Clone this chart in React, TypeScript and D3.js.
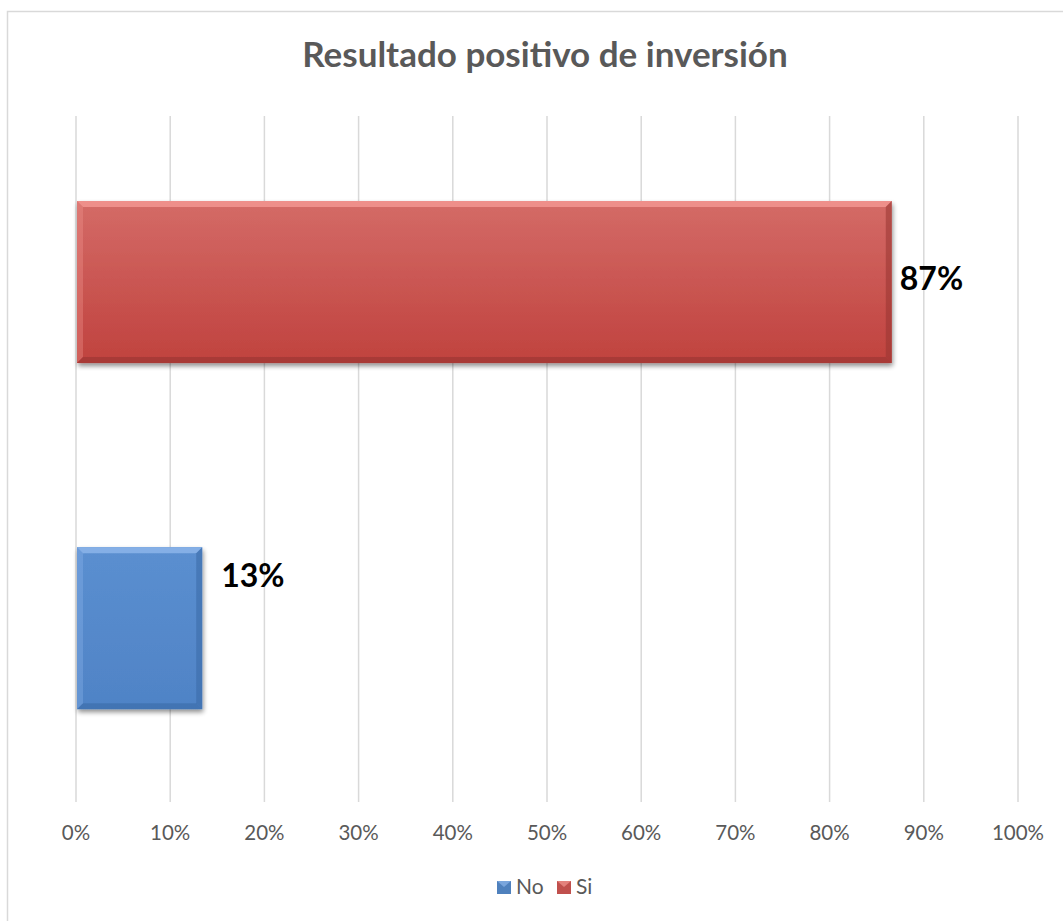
import React from "react";
import * as d3 from "d3";

const title = "Resultado positivo de inversión";
const seriesNames = ["No", "Si"];
const seriesValues = [0.134, 0.866];
const tickValues = [0, 0.1, 0.2, 0.3, 0.4, 0.5, 0.6, 0.7, 0.8, 0.9, 1.0];

const colors: Record<string, { top: string; bottom: string; light: string; dark: string; legend: string }> = {
  No: { top: "#5b8fd0", bottom: "#4f83c6", light: "#8cb5ea", dark: "#3b6aa6", legend: "#4f81bd" },
  Si: { top: "#d46b67", bottom: "#c0423e", light: "#f29590", dark: "#983532", legend: "#c0504d" },
};

const W = 1063;
const H = 921;
const plot = { left: 76, right: 1018, top: 116, bottom: 802 };
const font = "Lato, 'Open Sans', sans-serif";

export default function App() {
  const x = d3.scaleLinear().domain([0, 1]).range([plot.left, plot.right]);
  // Excel draws first series at bottom
  const y = d3
    .scaleBand<string>()
    .domain([...seriesNames].reverse())
    .range([plot.top, plot.bottom])
    .paddingInner(0.532)
    .paddingOuter(0.257)
    .align(0.478);
  const bw = y.bandwidth();
  const bev = 6;
  const labelDy: Record<string, number> = { No: 40, Si: 89 };
  const labelDx: Record<string, number> = { No: 19, Si: 8 };
  const pct = d3.format(".0%");

  return (
    <svg
      width={W}
      height={H}
      style={{ position: "absolute", left: 0, top: 0, background: "#fff" }}
      xmlns="http://www.w3.org/2000/svg"
    >
      <defs>
        {seriesNames.map((s) => (
          <linearGradient key={s} id={`g-${s}`} x1="0" y1="0" x2="0" y2="1">
            <stop offset="0" stopColor={colors[s].top} />
            <stop offset="1" stopColor={colors[s].bottom} />
          </linearGradient>
        ))}
        <filter id="shadow" x="-10%" y="-10%" width="120%" height="130%">
          <feGaussianBlur in="SourceAlpha" stdDeviation="2.5" />
          <feOffset dx="1" dy="3" result="b" />
          <feComponentTransfer>
            <feFuncA type="linear" slope="0.45" />
          </feComponentTransfer>
          <feMerge>
            <feMergeNode />
            <feMergeNode in="SourceGraphic" />
          </feMerge>
        </filter>
      </defs>
      <rect x={7.5} y={11.5} width={W + 10} height={H + 10} fill="#fff" stroke="#d9d9d9" strokeWidth={1.5} />
      <text
        x={545}
        y={67}
        textAnchor="middle"
        fontFamily={font}
        fontWeight="bold"
        fontSize={35}
        fill="#595959"
      >
        {title}
      </text>
      {tickValues.map((t) => (
        <line key={t} x1={x(t)} x2={x(t)} y1={plot.top} y2={plot.bottom} stroke="#d9d9d9" strokeWidth={1.5} />
      ))}
      {tickValues.map((t) => (
        <text
          key={"l" + t}
          x={x(t)}
          y={840}
          textAnchor="middle"
          fontFamily={font}
          fontSize={20.5}
          fill="#595959"
        >
          {pct(t)}
        </text>
      ))}
      {seriesNames.map((s, i) => {
        const x0 = x(0) + 1;
        const x1 = x(seriesValues[i]);
        const y0 = y(s)!;
        const y1 = y0 + bw;
        const c = colors[s];
        return (
          <g key={s}>
            <g filter="url(#shadow)">
              <rect x={x0} y={y0} width={x1 - x0} height={bw} fill={`url(#g-${s})`} />
            </g>
            <polygon
              points={`${x0},${y0} ${x1},${y0} ${x1 - bev},${y0 + bev} ${x0 + bev},${y0 + bev}`}
              fill={c.light}
              opacity={0.85}
            />
            <polygon
              points={`${x0},${y0} ${x0 + bev},${y0 + bev} ${x0 + bev},${y1 - bev} ${x0},${y1}`}
              fill={c.light}
              opacity={0.35}
            />
            <polygon
              points={`${x1},${y0} ${x1},${y1} ${x1 - bev},${y1 - bev} ${x1 - bev},${y0 + bev}`}
              fill={c.dark}
              opacity={0.55}
            />
            <polygon
              points={`${x0},${y1} ${x1},${y1} ${x1 - bev},${y1 - bev} ${x0 + bev},${y1 - bev}`}
              fill={c.dark}
              opacity={0.6}
            />
            <text
              x={x1 + labelDx[s]}
              y={y0 + labelDy[s]}
              fontFamily={font}
              fontWeight="bold"
              fontSize={32}
              fill="#000"
            >
              {pct(seriesValues[i])}
            </text>
          </g>
        );
      })}
      {(() => {
        const items = [
          { s: "No", x: 497, tx: 516 },
          { s: "Si", x: 557, tx: 576 },
        ];
        return items.map((it) => (
          <g key={"lg" + it.s}>
            <rect x={it.x} y={881} width={14} height={13} fill={colors[it.s].legend} />
            <polygon
              points={`${it.x},${881} ${it.x + 14},${881} ${it.x + 7},${887}`}
              fill={colors[it.s].light}
              opacity={0.7}
            />
            <text x={it.tx} y={894} fontFamily={font} fontSize={21} fill="#595959">
              {it.s}
            </text>
          </g>
        ));
      })()}
    </svg>
  );
}
